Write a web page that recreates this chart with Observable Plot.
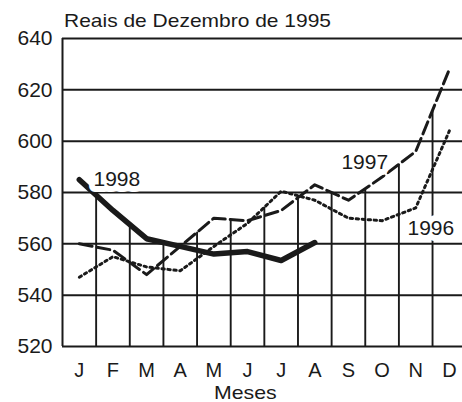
<!DOCTYPE html>
<html>
<head>
<meta charset="utf-8">
<script src="https://cdn.jsdelivr.net/npm/d3@7"></script>
<script src="https://cdn.jsdelivr.net/npm/@observablehq/plot@0.6"></script>
<style>
  html, body { margin: 0; padding: 0; background: #fff; }
  #chart svg { display: block; }
</style>
</head>
<body>
<div id="chart"></div>
<script>
const months = ["J","F","M","A","M","J","J","A","S","O","N","D"];
const y1996 = [547, 555, 551, 549.5, 559, 568, 580.5, 577, 570, 569, 574, 604];
const y1997 = [560, 557.5, 548, 559, 570, 569, 573, 583, 577, 586, 596, 628];
const y1998 = [585, 573, 562, 559, 556, 557, 553.5, 560.5];
const yTicks = [520, 540, 560, 580, 600, 620, 640];
const seriesLabels = [
  {text: "1998", m: 1.42, v: 582.7},
  {text: "1997", m: 8.79, v: 589.0},
  {text: "1996", m: 10.756, v: 563.6}
];

const toPts = (arr) => arr.map((v, i) => ({m: i + 1, v}));
const all = [y1996, y1997, y1998];
// drop lines at month boundaries, reaching the highest series there
const drops = [];
for (let b = 1; b < 12; b++) {
  let mx = -Infinity;
  for (const s of all) {
    if (s[b - 1] != null && s[b] != null) mx = Math.max(mx, (s[b - 1] + s[b]) / 2);
  }
  drops.push({m: b + 0.5, top: mx});
}

const ink = "#1a1a1a";
const font = "'Liberation Sans', Arial, Helvetica, sans-serif";

const plot = Plot.plot({
  width: 462,
  height: 402,
  marginLeft: 62,
  marginRight: 0,
  marginTop: 38,
  marginBottom: 56,
  style: {fontFamily: font, color: ink, background: "#fff", overflow: "visible"},
  x: {domain: [0.5, 0.5 + 400 / 33.64], axis: null},
  y: {domain: [520, 640], axis: null},
  marks: [
    Plot.ruleY(yTicks, {stroke: ink, strokeWidth: 2}),
    Plot.ruleX([0.5], {y1: 520, y2: 640, stroke: ink, strokeWidth: 2}),
    Plot.ruleX(drops, {x: "m", y1: 520, y2: "top", stroke: ink, strokeWidth: 1.9}),
    Plot.line(toPts(y1996), {x: "m", y: "v", stroke: ink, strokeWidth: 3, strokeDasharray: "2.4,3.6"}),
    Plot.line(toPts(y1997), {x: "m", y: "v", stroke: ink, strokeWidth: 3, strokeDasharray: "13,5"}),
    Plot.line(toPts(y1998), {x: "m", y: "v", stroke: ink, strokeWidth: 5.5, strokeLinejoin: "round"}),
    Plot.text(seriesLabels, {x: "m", y: "v", text: "text", textAnchor: "start", lineAnchor: "bottom",
      fontSize: 21, fill: ink, stroke: "white", strokeWidth: 12, paintOrder: "stroke"}),
    Plot.axisY(yTicks, {tickSize: 0, tickPadding: 10, fontSize: 21, label: null, tickFormat: d => d}),
    Plot.axisX(d3.range(1, 13), {tickSize: 0, tickPadding: 16, fontSize: 20, label: null,
      tickFormat: d => months[d - 1]})
  ]
});

const svg = d3.select(plot);
svg.append("text")
  .attr("x", 64).attr("y", 26.7).attr("text-anchor", "start")
  .attr("font-size", 19).attr("font-family", font).attr("fill", ink)
  .attr("textLength", 267).attr("lengthAdjust", "spacingAndGlyphs")
  .text("Reais de Dezembro de 1995");
svg.append("text")
  .attr("x", 214).attr("y", 398.5).attr("text-anchor", "start")
  .attr("font-size", 19).attr("font-family", font).attr("fill", ink)
  .attr("textLength", 62.7).attr("lengthAdjust", "spacingAndGlyphs")
  .text("Meses");

document.getElementById("chart").appendChild(plot);
</script>
</body>
</html>
